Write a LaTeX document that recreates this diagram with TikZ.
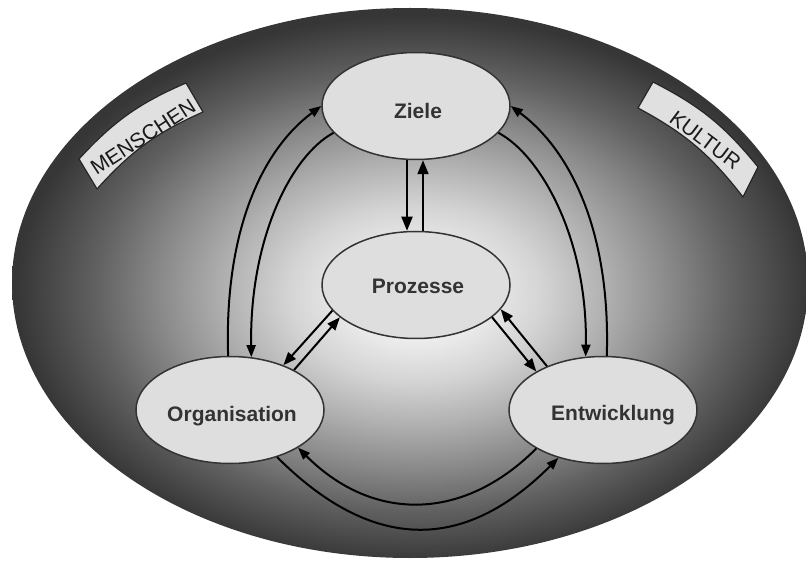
\documentclass[tikz,border=0pt]{standalone}
\usepackage{fontspec}
\setmainfont{Liberation Sans}
\usetikzlibrary{arrows.meta,shapes.geometric}

% soft glow: light core fading to a dark rim
\pgfdeclareradialshading{bgglow}{\pgfpoint{0.4bp}{-1.2bp}}{%
  color(0bp)=(black!3); color(4bp)=(black!7); color(8bp)=(black!17);
  color(12bp)=(black!31); color(16bp)=(black!46); color(20bp)=(black!62);
  color(25bp)=(black!79); color(50bp)=(black!79)}

\begin{document}
\begin{tikzpicture}[x=1pt,y=-1pt,
  bubble/.style={ellipse, draw=black!80, line width=1.5pt, fill=black!13,
    minimum width=188pt, minimum height=107pt, inner sep=0pt},
  lbl/.style={anchor=base, font=\bfseries\fontsize{21}{25}\selectfont, text=black!80},
  banner/.style={draw=black!85, line width=1.2pt, fill=black!12, line join=round},
  bannertext/.style={anchor=base, font=\fontsize{21}{25}\selectfont, text=black!90, inner sep=0pt},
  vlink/.style={draw=black, line width=2pt, -{Triangle[length=14pt,width=11pt]}},
  dlink/.style={draw=black, line width=2pt, -{Triangle[length=13pt,width=10pt]}},
  alink/.style={draw=black, line width=2pt, -{Triangle[length=12pt,width=9pt]}}]

\useasboundingbox (0,0) rectangle (806,561);

% background glow
\shade[shading=bgglow] (410,283) ellipse [x radius=398pt, y radius=275pt];

% ribbons
\coordinate (m1) at (79,159);
\coordinate (m2) at (186,83);
\coordinate (m3) at (203,112);
\coordinate (m4) at (97,189);
\draw[banner] (m1) to[bend left=12] (m2) -- (m3) to[bend right=12] (m4) -- cycle;
\node[bannertext, rotate=33] (men) at (147,143) {MENSCHEN};

\coordinate (k1) at (653,82);
\coordinate (k2) at (758,167);
\coordinate (k3) at (743,197);
\coordinate (k4) at (638,108);
\draw[banner] (k1) to[bend left=12] (k2) -- (k3) to[bend right=12] (k4) -- cycle;
\node[bannertext, rotate=-37] (kul) at (701,146) {KULTUR};

% the four ellipses
\node[bubble] (Z) at (416,106) {};
\node[bubble] (P) at (416,285) {};
\node[bubble] (O) at (230,410) {};
\node[bubble] (E) at (603,410) {};

\node[lbl] (Zt) at (418,119) {Ziele};
\node[lbl] (Pt) at (418,294) {Prozesse};
\node[lbl] (Ot) at (232,421) {Organisation};
\node[lbl] (Et) at (613,420) {Entwicklung};

% Ziele <-> Prozesse
\draw[vlink] ([xshift=-9pt]Z.south) -- ([xshift=-9pt]P.north);
\draw[vlink] ([xshift=7pt]P.north) -- ([xshift=7pt]Z.south);

% Prozesse <-> Organisation / Entwicklung
\draw[dlink] (P.197) -- (O.40);
\draw[dlink] (O.32) -- (P.203);
\draw[dlink] (P.337) -- (E.150);
\draw[dlink] (E.142) -- (P.344);

% outer loops, left side
\draw[alink] (O.92) .. controls +(-4,-127) and +(-58,43) .. (Z.west);
\draw[alink] (Z.198) .. controls +(-43,23) and +(-2,-117) .. (O.68);

% outer loops, right side
\draw[alink] (E.86) .. controls +(4,-127) and +(58,43) .. (Z.east);
\draw[alink] (Z.-18) .. controls +(43,23) and +(2,-117) .. (E.108);

% outer loops, bottom
\draw[alink] (E.210) .. controls +(-74,74) and +(74,74) .. (O.331);
\draw[alink] (O.315) .. controls +(95,95) and +(-95,95) .. (E.227);

\end{tikzpicture}
\end{document}
